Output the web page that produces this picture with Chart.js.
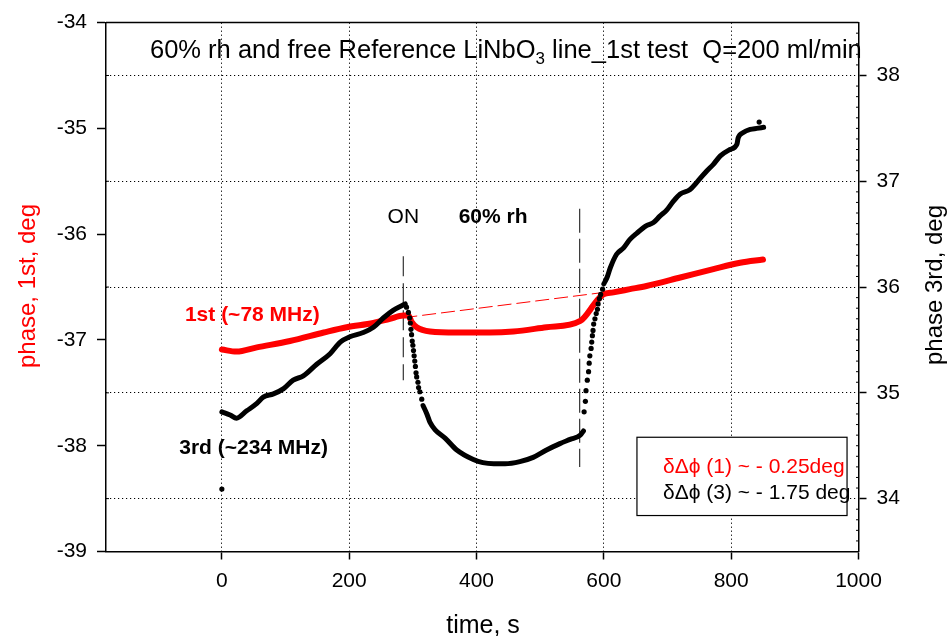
<!DOCTYPE html>
<html>
<head>
<meta charset="utf-8">
<script src="https://cdn.jsdelivr.net/npm/chart.js@4.4.0/dist/chart.umd.min.js"></script>
<style>
  html, body { margin: 0; padding: 0; background: #fff; }
  canvas { display: block; }
</style>
</head>
<body>
<canvas id="ch" width="949" height="636"></canvas>
<script>
// phase of 1st / 3rd harmonic vs time, 60% rh on the LiNbO3 reference line

// 1st harmonic (~78 MHz), left axis
var redT = [0, 23, 55, 107, 160, 196, 238, 264, 285, 293, 298, 306, 327, 369, 421, 458, 510, 563, 589, 599, 615, 641, 667, 720, 772, 814, 850];
var redV = [-37.09, -37.11, -37.07, -37.01, -36.93, -36.88, -36.84, -36.80, -36.77, -36.77, -36.83, -36.88, -36.92, -36.93, -36.93, -36.92, -36.88, -36.82, -36.63, -36.57, -36.55, -36.52, -36.49, -36.41, -36.33, -36.27, -36.24];

// 3rd harmonic (~234 MHz), right axis - dense parts
var blackAT = [0, 13, 23, 39, 55, 65, 81, 97, 112, 128, 149, 170, 186, 201, 222, 238, 254, 269, 288];
var blackAV = [34.82, 34.79, 34.76, 34.83, 34.90, 34.96, 34.99, 35.04, 35.12, 35.16, 35.27, 35.37, 35.48, 35.53, 35.57, 35.62, 35.71, 35.78, 35.84];
var blackBT = [316, 322, 327, 335, 351, 369, 395, 410, 427, 445, 468, 489, 510, 531, 547, 563, 568];
var blackBV = [34.88, 34.80, 34.72, 34.65, 34.57, 34.46, 34.37, 34.34, 34.33, 34.33, 34.35, 34.39, 34.46, 34.52, 34.56, 34.60, 34.64];
var blackCT = [600, 605, 610, 620, 631, 641, 652, 667, 678, 688, 699, 709, 720, 735, 746, 762, 772, 783, 798, 809, 811, 819, 830, 840, 851];
var blackCV = [36.03, 36.09, 36.18, 36.31, 36.37, 36.45, 36.51, 36.58, 36.61, 36.67, 36.73, 36.81, 36.88, 36.92, 36.99, 37.10, 37.16, 37.24, 37.30, 37.35, 37.41, 37.46, 37.49, 37.50, 37.51];

// 3rd harmonic - separate points (fast steps + stray points)
var dropT = [290, 293, 295, 296, 297, 298, 299, 300, 301, 302, 303, 304, 305, 306, 308, 309, 311, 314];
var dropV = [35.81, 35.76, 35.71, 35.66, 35.60, 35.55, 35.49, 35.45, 35.40, 35.35, 35.30, 35.25, 35.19, 35.15, 35.10, 35.05, 35.01, 34.94];
var riseT = [569, 571, 572, 574, 576, 577, 578, 580, 581, 582, 583, 584, 586, 588, 590, 591, 593, 595, 598];
var riseV = [34.82, 34.92, 35.02, 35.12, 35.20, 35.28, 35.35, 35.42, 35.48, 35.54, 35.59, 35.65, 35.70, 35.75, 35.79, 35.84, 35.89, 35.93, 35.98];
var strayT = [0, 844];
var strayV = [34.09, 37.56];

// markers: gas ON / OFF and drift line of the 1st harmonic (left axis)
var onT = [285, 285];
var onV = [-36.21, -37.38];
var offT = [562, 562];
var offV = [-35.76, -38.20];
var trendT = [285, 614];
var trendV = [-36.79, -36.54];

// axes
var timeTicks = [0, 200, 400, 600, 800, 1000];
var leftTicks = [-39, -38, -37, -36, -35, -34];
var rightTicks = [34, 35, 36, 37, 38];

var FONT = '"Liberation Sans", Arial, sans-serif';

function pts(ts, vs) {
  return ts.map(function (t, i) { return {x: t, y: vs[i]}; });
}

function blackLine(ts, vs) {
  return {
    data: pts(ts, vs), yAxisID: 'y2', showLine: true, pointRadius: 0,
    borderColor: '#000', borderWidth: 5, borderCapStyle: 'round', borderJoinStyle: 'round',
    cubicInterpolationMode: 'monotone'
  };
}

var deco = {
  id: 'deco',
  afterDraw: function (chart) {
    var c = chart.ctx, a = chart.chartArea;
    var sx = chart.scales.x, sl = chart.scales.y, sr = chart.scales.y2;
    c.save();

    // top frame
    c.strokeStyle = '#000';
    c.lineWidth = 1.5;
    c.beginPath(); c.moveTo(a.left, a.top); c.lineTo(a.right, a.top); c.stroke();

    // minor ticks
    c.lineWidth = 1;
    c.beginPath();
    for (var k = 0; k < 5; k++) {
      var yp = sl.getPixelForValue(-34.5 - k);
      c.moveTo(a.left, yp); c.lineTo(a.left + 3, yp);
    }
    for (var m = 1; m < 50; m++) {
      if (m % 10 === 5) continue;
      var yq = sr.getPixelForValue(33.5 + m * 0.1);
      c.moveTo(a.right, yq); c.lineTo(a.right - 2.5, yq);
    }
    c.stroke();

    // title inside the plot
    var tx = a.left + 44, ty = a.top + 35.5;
    c.fillStyle = '#000';
    c.textAlign = 'left';
    c.textBaseline = 'alphabetic';
    c.font = '25.5px ' + FONT;
    var s1 = '60% rh and free Reference LiNbO';
    c.fillText(s1, tx, ty);
    tx += c.measureText(s1).width;
    c.font = '17px ' + FONT;
    c.fillText('3', tx, ty + 6);
    tx += c.measureText('3').width;
    c.font = '25.5px ' + FONT;
    c.fillText(' line_1st test  Q=200 ml/min', tx, ty);

    // annotations
    c.textBaseline = 'middle';
    c.textAlign = 'center';
    c.font = '21px ' + FONT;
    c.fillText('ON', sx.getPixelForValue(285), sl.getPixelForValue(-35.84));
    c.font = 'bold 21px ' + FONT;
    c.fillText('60% rh', sx.getPixelForValue(426), sl.getPixelForValue(-35.84));
    c.textAlign = 'left';
    c.fillStyle = '#ff0000';
    c.fillText('1st (~78 MHz)', sx.getPixelForValue(-58), sl.getPixelForValue(-36.77));
    c.fillStyle = '#000';
    c.fillText('3rd (~234 MHz)', sx.getPixelForValue(-67), sl.getPixelForValue(-38.02));

    // result box
    var bx = sx.getPixelForValue(652), by = sl.getPixelForValue(-37.92);
    var bw = sx.getPixelForValue(982) - bx, bh = sl.getPixelForValue(-38.66) - by;
    c.fillStyle = '#fff';
    c.fillRect(bx, by, bw, bh);
    c.strokeStyle = '#000';
    c.lineWidth = 1.2;
    c.strokeRect(bx, by, bw, bh);
    c.font = '21px ' + FONT;
    c.fillStyle = '#ff0000';
    c.fillText('\u03B4\u0394\u03D5 (1) ~ - 0.25deg', bx + 26, by + 30);
    c.fillStyle = '#000';
    c.fillText('\u03B4\u0394\u03D5 (3) ~ - 1.75 deg', bx + 26, by + 56);

    // axis titles
    c.textAlign = 'center';
    c.font = '25px ' + FONT;
    c.textBaseline = 'alphabetic';
    c.fillText('time, s', 483, 633);
    c.textBaseline = 'middle';
    c.font = '24px ' + FONT;
    c.save();
    c.translate(28, 286);
    c.rotate(-Math.PI / 2);
    c.fillStyle = '#ff0000';
    c.fillText('phase, 1st, deg', 0, 0);
    c.restore();
    c.save();
    c.translate(935, 285);
    c.rotate(-Math.PI / 2);
    c.fillStyle = '#000';
    c.fillText('phase 3rd, deg', 0, 0);
    c.restore();

    c.restore();
  }
};

var tickFont = {family: FONT, size: 21};

new Chart(document.getElementById('ch'), {
  type: 'scatter',
  data: {
    datasets: [
      {
        data: pts(dropT, dropV).concat(pts(riseT, riseV), pts(strayT, strayV)),
        yAxisID: 'y2', showLine: false, pointRadius: 2.6, pointBorderWidth: 0,
        pointBackgroundColor: '#000'
      },
      blackLine(blackAT, blackAV),
      blackLine(blackBT, blackBV),
      blackLine(blackCT, blackCV),
      {
        data: pts(redT, redV), yAxisID: 'y', showLine: true, pointRadius: 0,
        borderColor: '#ff0000', borderWidth: 6, borderCapStyle: 'round', borderJoinStyle: 'round',
        cubicInterpolationMode: 'monotone'
      },
      {
        data: pts(trendT, trendV), yAxisID: 'y', showLine: true, pointRadius: 0,
        borderColor: '#ff0000', borderWidth: 1, borderDash: [14, 5]
      },
      {
        data: pts(onT, onV), yAxisID: 'y', showLine: true, pointRadius: 0,
        borderColor: '#333', borderWidth: 1.2, borderDash: [20, 7]
      },
      {
        data: pts(offT, offV), yAxisID: 'y', showLine: true, pointRadius: 0,
        borderColor: '#333', borderWidth: 1.2, borderDash: [24, 6]
      }
    ]
  },
  options: {
    responsive: false,
    animation: false,
    devicePixelRatio: 1,
    layout: {padding: {top: 21, left: 0, right: 0, bottom: 0}},
    plugins: {legend: {display: false}, tooltip: {enabled: false}},
    scales: {
      x: {
        type: 'linear', min: -182, max: 1000,
        afterBuildTicks: function (s) { s.ticks = timeTicks.map(function (v) { return {value: v}; }); },
        afterFit: function (s) { s.height = 84.5; },
        ticks: {color: '#000', font: tickFont, padding: 9, maxRotation: 0,
          callback: function (v) { return String(v); }},
        grid: {
          color: function (ctx) { return ctx.tick && ctx.tick.value === 1000 ? 'rgba(0,0,0,0)' : '#000'; },
          lineWidth: 1, tickColor: '#000', tickWidth: 1.5, tickLength: 8, tickBorderDash: []
        },
        border: {display: true, color: '#000', width: 1.5, dash: [1.2, 2.8]}
      },
      y: {
        position: 'left', min: -39, max: -34,
        afterBuildTicks: function (s) { s.ticks = leftTicks.map(function (v) { return {value: v}; }); },
        afterFit: function (s) { s.width = 106; },
        ticks: {color: '#000', font: tickFont, padding: 10, callback: function (v) { return String(v); }},
        grid: {drawOnChartArea: false, color: '#000', tickColor: '#000', tickWidth: 1.5, tickLength: 9},
        border: {display: true, color: '#000', width: 1.5}
      },
      y2: {
        position: 'right', min: 33.5, max: 38.5,
        afterBuildTicks: function (s) { s.ticks = rightTicks.map(function (v) { return {value: v}; }); },
        afterFit: function (s) { s.width = 90.5; },
        ticks: {color: '#000', font: tickFont, padding: 10, callback: function (v) { return String(v); }},
        grid: {drawOnChartArea: true, color: '#000', lineWidth: 1, tickColor: '#000', tickWidth: 1.5,
          tickLength: 8, tickBorderDash: []},
        border: {display: true, color: '#000', width: 1.5, dash: [1.2, 2.8]}
      }
    }
  },
  plugins: [deco]
});
</script>
</body>
</html>
